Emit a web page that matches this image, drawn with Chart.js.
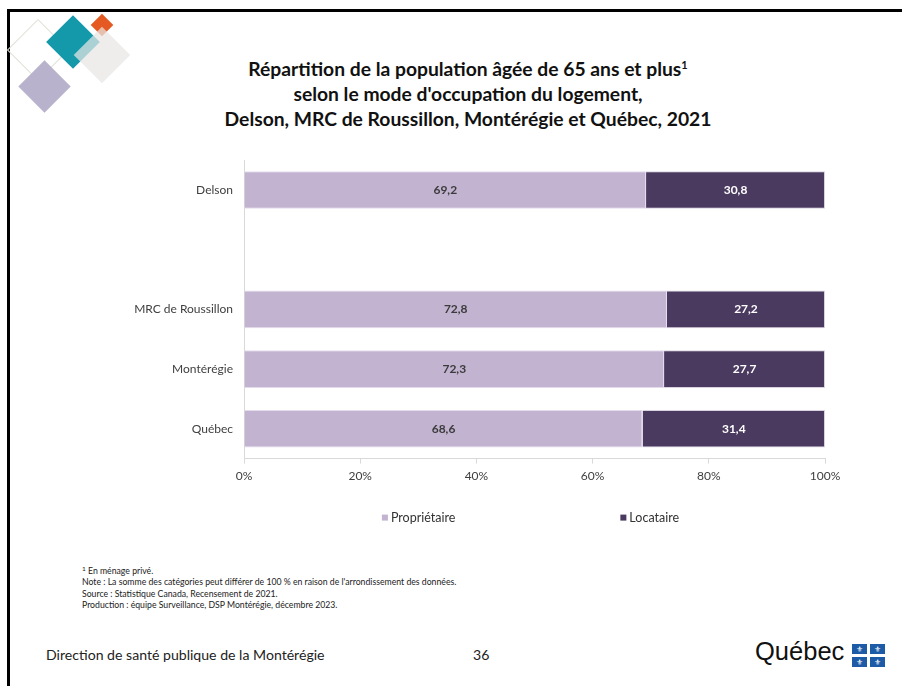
<!DOCTYPE html>
<html>
<head>
<meta charset="utf-8">
<script src="https://cdn.jsdelivr.net/npm/chart.js@4/dist/chart.umd.min.js"></script>
<style>
  html, body { margin: 0; padding: 0; background: #fff; }
  body { width: 902px; height: 686px; position: relative; overflow: hidden; font-family: Lato, "Open Sans", sans-serif; }
  .frameTop { position: absolute; left: 7px; top: 9px; width: 895px; height: 3px; background: #000; }
  .frameLeft { position: absolute; left: 7px; top: 9px; width: 3px; height: 677px; background: #000; }
  .dia { position: absolute; transform: rotate(45deg); }
  #title { position: absolute; left: 160px; width: 616px; top: 56px; text-align: center; font-weight: bold; font-size: 19.3px; line-height: 25px; color: #111; }
  #title sup { font-size: 11px; vertical-align: 7px; line-height: 0; }
  #wrap { position: absolute; left: 20px; top: 150px; width: 830px; height: 385px; }
  #notes { position: absolute; left: 82px; top: 565px; font-size: 8.7px; line-height: 11.4px; color: #222; }
  #notes sup { font-size: 6.5px; vertical-align: 3px; line-height: 0; }
  #footer { position: absolute; left: 46px; top: 646px; font-size: 14.1px; color: #222; }
  #page { position: absolute; left: 473px; top: 646px; font-size: 14.1px; color: #222; }
  #qc { position: absolute; left: 755px; top: 637px; font-size: 25.5px; color: #111; font-family: "Liberation Sans", sans-serif; }
  .flag { position: absolute; left: 852px; top: 644px; width: 34px; height: 24px; }
  .flag div { position: absolute; width: 15px; height: 10px; background: #1d5ba7; color: #fff; font-size: 8px; line-height: 10px; text-align: center; }
</style>
</head>
<body>
<div class="frameTop"></div>
<div class="frameLeft"></div>

<div class="dia" style="left:16px;top:28px;width:42px;height:42px;border:1.5px solid #dde3d6;"></div>
<div class="dia" style="left:26px;top:68px;width:37px;height:37px;background:#b9b2cd;"></div>
<div class="dia" style="left:54px;top:23px;width:38px;height:38px;background:#1499ab;"></div>
<div class="dia" style="left:94px;top:17px;width:16px;height:16px;background:#e55a23;"></div>
<div class="dia" style="left:82px;top:35px;width:40px;height:40px;background:rgba(232,230,228,0.72);"></div>

<div id="title">Répartition de la population âgée de 65 ans et plus<sup>1</sup><br>selon le mode d'occupation du logement,<br>Delson, MRC de Roussillon, Montérégie et Québec, 2021</div>

<div id="wrap"><canvas id="chart"></canvas></div>

<div id="notes"><sup>1</sup> En ménage privé.<br>Note : La somme des catégories peut différer de 100 % en raison de l'arrondissement des données.<br>Source : Statistique Canada, Recensement de 2021.<br>Production : équipe Surveillance, DSP Montérégie, décembre 2023.</div>

<div id="footer">Direction de santé publique de la Montérégie</div>
<div id="page">36</div>
<div id="qc">Québec</div>
<div class="flag">
  <div style="left:0;top:0">⚜</div><div style="left:18px;top:0">⚜</div>
  <div style="left:0;top:13px">⚜</div><div style="left:18px;top:13px">⚜</div>
</div>

<script>
const places = ["Delson", "", "MRC de Roussillon", "Montérégie", "Québec"];
const owners = [69.2, null, 72.8, 72.3, 68.6];
const renters = [30.8, null, 27.2, 27.7, 31.4];
const seriesNames = ["Propriétaire", "Locataire"];
const tickPct = [0, 20, 40, 60, 80, 100];

const lightPurple = "#c2b3d1";
const darkPurple = "#4b3a60";

// values written in the middle of each piece of bar
const barLabels = {
  id: "barLabels",
  afterDatasetsDraw(chart) {
    const ctx = chart.ctx;
    ctx.save();
    ctx.font = "bold 12px Lato, sans-serif";
    ctx.textAlign = "center";
    ctx.textBaseline = "middle";
    chart.data.datasets.forEach((ds, i) => {
      const meta = chart.getDatasetMeta(i);
      meta.data.forEach((bar, j) => {
        const v = ds.data[j];
        if (v == null) return;
        ctx.fillStyle = i == 0 ? "#3b3b3b" : "#ffffff";
        const cx = (bar.x + bar.base) / 2;
        ctx.fillText(v.toFixed(1).replace(".", ","), cx, bar.y);
      });
    });
    ctx.restore();
  }
};

// legend with wide gap between the two items (built-in padding is also vertical)
const wideLegend = {
  id: "wideLegend",
  afterDraw(chart) {
    const ctx = chart.ctx;
    const area = chart.chartArea;
    const gap = 165, box = 6;
    ctx.save();
    ctx.font = "12.5px Lato, sans-serif";
    ctx.textBaseline = "middle";
    const items = chart.data.datasets.map(ds => ({ text: ds.label, color: ds.backgroundColor, w: box + 3 + ctx.measureText(ds.label).width }));
    const total = items.reduce((s, it) => s + it.w, 0) + gap * (items.length - 1);
    let x = (area.left + area.right) / 2 - 4 - total / 2;
    const y = area.bottom + 59;
    items.forEach(it => {
      ctx.fillStyle = it.color;
      ctx.fillRect(x, y - box / 2, box, box);
      ctx.fillStyle = "#333333";
      ctx.fillText(it.text, x + box + 3, y);
      x += it.w + gap;
    });
    ctx.restore();
  }
};

new Chart(document.getElementById("chart"), {
  type: "bar",
  data: {
    labels: places,
    datasets: [
      { label: seriesNames[0], data: owners, backgroundColor: lightPurple, borderColor: "#e4dced", borderWidth: 1 },
      { label: seriesNames[1], data: renters, backgroundColor: darkPurple, borderColor: "#d8d2df", borderWidth: 1 }
    ]
  },
  options: {
    indexAxis: "y",
    responsive: true,
    maintainAspectRatio: false,
    animation: false,
    layout: { padding: { top: 4, right: 25, left: 0, bottom: 47 } },
    datasets: { bar: { barPercentage: 0.63, categoryPercentage: 1 } },
    scales: {
      x: {
        stacked: true,
        min: 0,
        max: 100,
        afterBuildTicks(scale) { scale.ticks = tickPct.map(v => ({ value: v })); },
        grid: { drawOnChartArea: false, drawTicks: true, tickLength: 5, color: "#d9d9d9" },
        border: { display: true, color: "#d9d9d9" },
        ticks: { color: "#404040", font: { family: "Lato", size: 12 }, padding: 5, callback: v => v + "%" }
      },
      y: {
        stacked: true,
        afterFit(scale) { scale.width = 224; },
        grid: { display: false },
        border: { display: true, color: "#d9d9d9" },
        ticks: { color: "#404040", font: { family: "Lato", size: 12 }, padding: 3 }
      }
    },
    plugins: {
      legend: { display: false },
      tooltip: { enabled: false }
    }
  },
  plugins: [barLabels, wideLegend]
});
</script>
</body>
</html>
